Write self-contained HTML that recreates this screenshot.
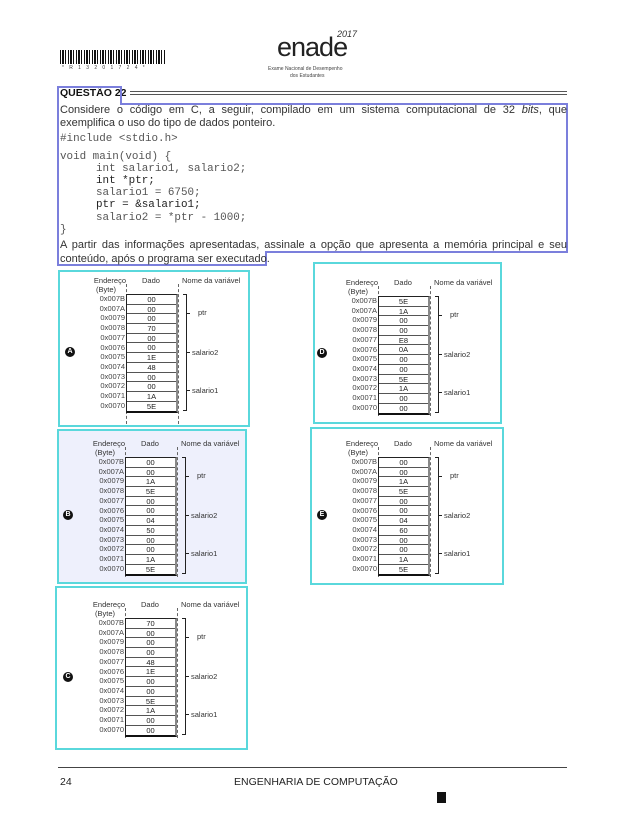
<!DOCTYPE html>
<html><head><meta charset="utf-8"><style>
*{margin:0;padding:0;box-sizing:border-box}
body{width:628px;height:826px;background:#fff;position:relative;overflow:hidden;font-family:"Liberation Sans",sans-serif;color:#222}
.a{position:absolute;white-space:nowrap}
.txt{font-size:11px;color:#333;text-align:justify;text-align-last:justify;width:507px;left:60px}
.code{font-family:"Liberation Mono",monospace;font-size:10.9px;color:#555}
.panel{position:absolute;border:2px solid #5ad8dc;background:#fff}
.t{position:absolute;font-size:7.5px;color:#333}
.tbl{position:absolute;left:0;top:0;width:52px;border:1px solid #222;border-right:2px solid #888;border-bottom:2px solid #111}
.tbl div{height:9.7px;line-height:9px;border-bottom:1px solid #555;text-align:center;font-size:7.5px}
.tbl div:last-child{border-bottom:none}
.adr{position:absolute;right:0;top:0;text-align:right;font-size:7.5px;color:#444;line-height:9.7px}
.dl{position:absolute;border-left:1px dashed #666;width:0}
.br{position:absolute;left:57px;width:4px;border:1px solid #222;border-left:none}
.tk{position:absolute;left:61px;width:3px;height:1px;background:#222}
.circ{position:absolute;width:10px;height:10px;border-radius:50%;background:#111;color:#fff;font-size:7px;font-weight:bold;text-align:center;line-height:10px}
</style></head><body>

<!-- header -->
<div class="a" style="left:60px;top:50px;width:105px;height:14px;background:repeating-linear-gradient(90deg,#111 0 1px,#fff 1px 2px,#111 2px 4px,#fff 4px 5px,#111 5px 6px,#fff 6px 8px)"></div>
<div class="a" style="left:62px;top:65px;font-size:5px;letter-spacing:5.3px;color:#444">*R13201724*</div>
<div class="a" style="left:277px;top:32px;font-size:27px;color:#222;letter-spacing:-1px">enade</div>
<div class="a" style="left:337px;top:29px;font-size:9px;font-style:italic;color:#333">2017</div>
<div class="a" style="left:268px;top:66px;font-size:5px;color:#444">Exame Nacional de Desempenho</div>
<div class="a" style="left:290px;top:73px;font-size:5px;color:#444">dos Estudantes</div>

<!-- question -->
<div class="a" style="left:60px;top:87px;font-size:10.5px;font-weight:bold;color:#111">QUESTÃO 22</div>
<div class="a" style="left:130px;top:91px;width:437px;height:4px;border-top:1px solid #555;border-bottom:1px solid #555"></div>
<svg class="a" style="left:0;top:0" width="628" height="300"><path d="M58 87 H121 V104 H567 V252 H266 V265 H58 Z" fill="none" stroke="#7b7fdc" stroke-width="2"/></svg>

<div class="a txt" style="top:104px">Considere o código em C, a seguir, compilado em um sistema computacional de 32 <i>bits</i>, que</div>
<div class="a" style="left:60px;top:117px;font-size:11px;color:#333">exemplifica o uso do tipo de dados ponteiro.</div>
<div class="a code" style="left:60px;top:133px">#include &lt;stdio.h&gt;</div>
<div class="a code" style="left:60px;top:151px">void main(void) {</div>
<div class="a code" style="left:96px;top:163px">int salario1, salario2;</div>
<div class="a code" style="left:96px;top:175px;color:#222">int *ptr;</div>
<div class="a code" style="left:96px;top:187px">salario1 = 6750;</div>
<div class="a code" style="left:96px;top:199px;color:#222">ptr = &amp;salario1;</div>
<div class="a code" style="left:96px;top:212px">salario2 = *ptr - 1000;</div>
<div class="a code" style="left:60px;top:224px">}</div>
<div class="a txt" style="top:239px">A partir das informações apresentadas, assinale a opção que apresenta a memória principal e seu</div>
<div class="a" style="left:60px;top:253px;font-size:11px;color:#333">conteúdo, após o programa ser executado.</div>

<!-- panels -->
<div class="panel" style="left:58px;top:270px;width:192px;height:157px"></div>
<div class="panel" style="left:313px;top:262px;width:189px;height:162px"></div>
<div class="panel" style="left:57px;top:429px;width:190px;height:155px;background:#eef0fc"></div>
<div class="panel" style="left:310px;top:427px;width:194px;height:158px"></div>
<div class="panel" style="left:55px;top:586px;width:193px;height:164px"></div>

<!-- A -->
<div class="a" style="left:126px;top:294px">
<div class="t" style="right:0;top:-18px;text-align:right">Endereço</div><div class="t" style="left:-30px;top:-9px">(Byte)</div>
<div class="t" style="left:16px;top:-18px">Dado</div><div class="t" style="left:56px;top:-18px">Nome da variável</div>
<div class="dl" style="left:0;top:-10px;height:140px"></div><div class="dl" style="left:52px;top:-10px;height:140px"></div>
<div class="adr" style="left:-40px;width:39px">0x007B<br>0x007A<br>0x0079<br>0x0078<br>0x0077<br>0x0076<br>0x0075<br>0x0074<br>0x0073<br>0x0072<br>0x0071<br>0x0070</div>
<div class="tbl"><div>00</div><div>00</div><div>00</div><div>70</div><div>00</div><div>00</div><div>1E</div><div>48</div><div>00</div><div>00</div><div>1A</div><div>5E</div></div>
<div class="br" style="top:0;height:117px"></div><div class="tk" style="top:19px"></div><div class="tk" style="top:58px"></div><div class="tk" style="top:96px"></div>
<div class="t" style="left:72px;top:14px">ptr</div><div class="t" style="left:66px;top:54px">salario2</div><div class="t" style="left:66px;top:92px">salario1</div>
<div class="circ" style="left:-61px;top:53px">A</div>
</div>

<!-- D -->
<div class="a" style="left:378px;top:296px">
<div class="t" style="right:0;top:-18px;text-align:right">Endereço</div><div class="t" style="left:-30px;top:-9px">(Byte)</div>
<div class="t" style="left:16px;top:-18px">Dado</div><div class="t" style="left:56px;top:-18px">Nome da variável</div>
<div class="dl" style="left:0;top:-10px;height:130px"></div><div class="dl" style="left:52px;top:-10px;height:130px"></div>
<div class="adr" style="left:-40px;width:39px">0x007B<br>0x007A<br>0x0079<br>0x0078<br>0x0077<br>0x0076<br>0x0075<br>0x0074<br>0x0073<br>0x0072<br>0x0071<br>0x0070</div>
<div class="tbl"><div>5E</div><div>1A</div><div>00</div><div>00</div><div>E8</div><div>0A</div><div>00</div><div>00</div><div>5E</div><div>1A</div><div>00</div><div>00</div></div>
<div class="br" style="top:0;height:117px"></div><div class="tk" style="top:19px"></div><div class="tk" style="top:58px"></div><div class="tk" style="top:96px"></div>
<div class="t" style="left:72px;top:14px">ptr</div><div class="t" style="left:66px;top:54px">salario2</div><div class="t" style="left:66px;top:92px">salario1</div>
<div class="circ" style="left:-61px;top:52px">D</div>
</div>

<!-- B -->
<div class="a" style="left:125px;top:457px">
<div class="t" style="right:0;top:-18px;text-align:right">Endereço</div><div class="t" style="left:-30px;top:-9px">(Byte)</div>
<div class="t" style="left:16px;top:-18px">Dado</div><div class="t" style="left:56px;top:-18px">Nome da variável</div>
<div class="dl" style="left:0;top:-10px;height:130px"></div><div class="dl" style="left:52px;top:-10px;height:130px"></div>
<div class="adr" style="left:-40px;width:39px">0x007B<br>0x007A<br>0x0079<br>0x0078<br>0x0077<br>0x0076<br>0x0075<br>0x0074<br>0x0073<br>0x0072<br>0x0071<br>0x0070</div>
<div class="tbl" style="background:#fff"><div>00</div><div>00</div><div>1A</div><div>5E</div><div>00</div><div>00</div><div>04</div><div>50</div><div>00</div><div>00</div><div>1A</div><div>5E</div></div>
<div class="br" style="top:0;height:117px"></div><div class="tk" style="top:19px"></div><div class="tk" style="top:58px"></div><div class="tk" style="top:96px"></div>
<div class="t" style="left:72px;top:14px">ptr</div><div class="t" style="left:66px;top:54px">salario2</div><div class="t" style="left:66px;top:92px">salario1</div>
<div class="circ" style="left:-62px;top:53px">B</div>
</div>

<!-- E -->
<div class="a" style="left:378px;top:457px">
<div class="t" style="right:0;top:-18px;text-align:right">Endereço</div><div class="t" style="left:-30px;top:-9px">(Byte)</div>
<div class="t" style="left:16px;top:-18px">Dado</div><div class="t" style="left:56px;top:-18px">Nome da variável</div>
<div class="dl" style="left:0;top:-10px;height:130px"></div><div class="dl" style="left:52px;top:-10px;height:130px"></div>
<div class="adr" style="left:-40px;width:39px">0x007B<br>0x007A<br>0x0079<br>0x0078<br>0x0077<br>0x0076<br>0x0075<br>0x0074<br>0x0073<br>0x0072<br>0x0071<br>0x0070</div>
<div class="tbl"><div>00</div><div>00</div><div>1A</div><div>5E</div><div>00</div><div>00</div><div>04</div><div>60</div><div>00</div><div>00</div><div>1A</div><div>5E</div></div>
<div class="br" style="top:0;height:117px"></div><div class="tk" style="top:19px"></div><div class="tk" style="top:58px"></div><div class="tk" style="top:96px"></div>
<div class="t" style="left:72px;top:14px">ptr</div><div class="t" style="left:66px;top:54px">salario2</div><div class="t" style="left:66px;top:92px">salario1</div>
<div class="circ" style="left:-61px;top:53px">E</div>
</div>

<!-- C -->
<div class="a" style="left:125px;top:618px">
<div class="t" style="right:0;top:-18px;text-align:right">Endereço</div><div class="t" style="left:-30px;top:-9px">(Byte)</div>
<div class="t" style="left:16px;top:-18px">Dado</div><div class="t" style="left:56px;top:-18px">Nome da variável</div>
<div class="dl" style="left:0;top:-10px;height:130px"></div><div class="dl" style="left:52px;top:-10px;height:130px"></div>
<div class="adr" style="left:-40px;width:39px">0x007B<br>0x007A<br>0x0079<br>0x0078<br>0x0077<br>0x0076<br>0x0075<br>0x0074<br>0x0073<br>0x0072<br>0x0071<br>0x0070</div>
<div class="tbl"><div>70</div><div>00</div><div>00</div><div>00</div><div>48</div><div>1E</div><div>00</div><div>00</div><div>5E</div><div>1A</div><div>00</div><div>00</div></div>
<div class="br" style="top:0;height:117px"></div><div class="tk" style="top:19px"></div><div class="tk" style="top:58px"></div><div class="tk" style="top:96px"></div>
<div class="t" style="left:72px;top:14px">ptr</div><div class="t" style="left:66px;top:54px">salario2</div><div class="t" style="left:66px;top:92px">salario1</div>
<div class="circ" style="left:-62px;top:54px">C</div>
</div>

<!-- footer -->
<div class="a" style="left:58px;top:767px;width:509px;height:1px;background:#444"></div>
<div class="a" style="left:60px;top:776px;font-size:10.5px">24</div>
<div class="a" style="left:234px;top:776px;font-size:10.5px">ENGENHARIA DE COMPUTAÇÃO</div>
<div class="a" style="left:437px;top:792px;width:9px;height:11px;background:#111"></div>
</body></html>
